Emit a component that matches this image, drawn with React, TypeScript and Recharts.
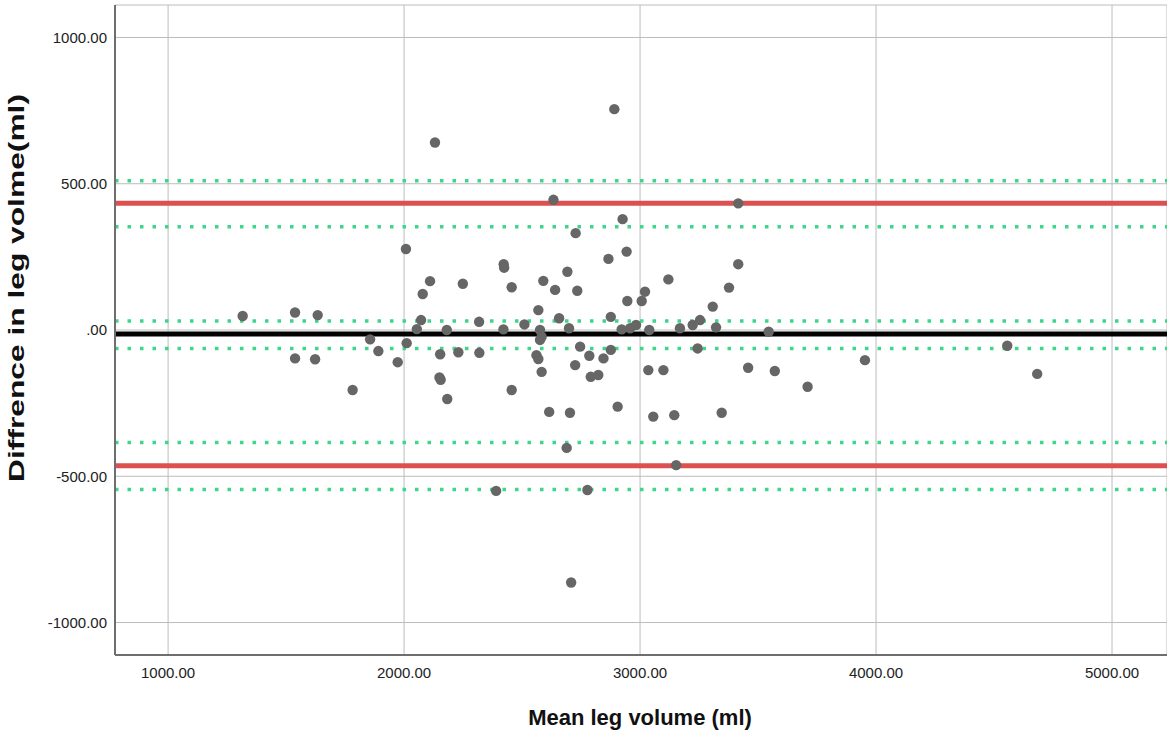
import { ScatterChart, Scatter, XAxis, YAxis, CartesianGrid, ReferenceLine } from 'recharts';

// mean leg volume (ml) / difference (ml) per subject
const meanVolume = [
  1316, 1538, 1538, 1634, 1623, 1782, 1856, 1891, 1973, 2008, 2011, 2054, 2072, 2079, 2110, 2131,
  2150, 2155, 2153, 2181, 2183, 2230, 2249, 2318, 2319, 2390, 2421, 2422, 2424, 2456, 2456, 2510,
  2561, 2569, 2569, 2576, 2583, 2576, 2583, 2590, 2615, 2633, 2640, 2657, 2689, 2692, 2699, 2703,
  2708, 2725, 2727, 2734, 2746, 2777, 2785, 2791, 2823, 2845, 2866, 2876, 2876, 2891, 2905, 2922,
  2926, 2943, 2946, 2958, 2983, 3007, 3021, 3035, 3039, 3056, 3099, 3120, 3145, 3153, 3169, 3223,
  3244, 3254, 3308, 3322, 3346, 3377, 3416, 3416, 3458, 3545, 3571, 3710, 3953, 4556, 4683,
];
const difference = [
  48, 60, -97, 51, -100, -205, -32, -72, -110, 277, -45, 3, 34, 123, 167, 641,
  -162, -170, -83, 0, -236, -76, 158, 28, -78, -550, 2, 225, 213, 146, -205, 19,
  -86, 68, -99, 0, -23, -34, -143, 168, -280, 445, 137, 40, -403, 199, 6, -283,
  -863, -120, 331, 134, -57, -547, -88, -160, -154, -97, 243, 45, -68, 755, -262, 2,
  379, 268, 99, 6, 17, 99, 131, -137, 0, -296, -137, 173, -291, -462, 6, 17,
  -63, 34, 80, 9, -283, 145, 433, 225, -129, -6, -140, -194, -103, -54, -150,
];

const meanDiff = -14;
const limitsOfAgreement = [433, -464];
const confidenceBounds = [510, 353, 31, -63, -385, -545];

const xTicks = [1000, 2000, 3000, 4000, 5000];
const yTicks = [-1000, -500, 0, 500, 1000];

const points = meanVolume.map((x, i) => ({ x, y: difference[i] }));

const fmt = (v: number) => (v === 0 ? '.00' : v.toFixed(2));
const tickStyle = { fontSize: 15, fill: '#222', fontFamily: 'Liberation Sans, Arial, sans-serif' };

export default function App() {
  return (
    <div style={{ position: 'absolute', left: 0, top: 0, background: '#fff' }}>
      <ScatterChart width={1167} height={734} margin={{ top: 5, right: 0, bottom: 0, left: 0 }}>
        <CartesianGrid stroke="#bcbcbc" strokeWidth={1} />
        <XAxis
          type="number"
          dataKey="x"
          domain={[775, 5233]}
          ticks={xTicks}
          tickFormatter={fmt}
          allowDataOverflow
          height={79}
          tickLine={false}
          tickMargin={6}
          axisLine={{ stroke: '#6e6e6e', strokeWidth: 2 }}
          tick={tickStyle}
          label={() => (
            <text x={640} y={725} textAnchor="middle" fontSize={22} fontWeight="bold" fill="#111"
              fontFamily="Liberation Sans, Arial, sans-serif">
              Mean leg volume (ml)
            </text>
          )}
        />
        <YAxis
          type="number"
          dataKey="y"
          domain={[-1111, 1111]}
          ticks={yTicks}
          tickFormatter={fmt}
          allowDataOverflow
          width={115}
          tickLine={false}
          axisLine={{ stroke: '#6e6e6e', strokeWidth: 2 }}
          tick={tickStyle}
          label={() => (
            <text x={24} y={288} transform="rotate(-90 24 288)" textAnchor="middle" fontSize={22}
              fontWeight="bold" fill="#111" textLength={388} lengthAdjust="spacingAndGlyphs"
              fontFamily="Liberation Sans, Arial, sans-serif">
              Diffrence in leg volme(ml)
            </text>
          )}
        />
        <Scatter data={points} fill="#666666" shape={(p: any) => <circle cx={p.cx} cy={p.cy} r={5.2} fill="#666666" />} isAnimationActive={false} />
        {confidenceBounds.map((v) => (
          <ReferenceLine key={'ci' + v} y={v} stroke="#3ed68a" strokeWidth={3.5} strokeDasharray="3.5 9" />
        ))}
        {limitsOfAgreement.map((v) => (
          <ReferenceLine key={'loa' + v} y={v} stroke="#dc5050" strokeWidth={5} />
        ))}
        <ReferenceLine y={meanDiff} stroke="#000" strokeWidth={5} />
      </ScatterChart>
    </div>
  );
}
